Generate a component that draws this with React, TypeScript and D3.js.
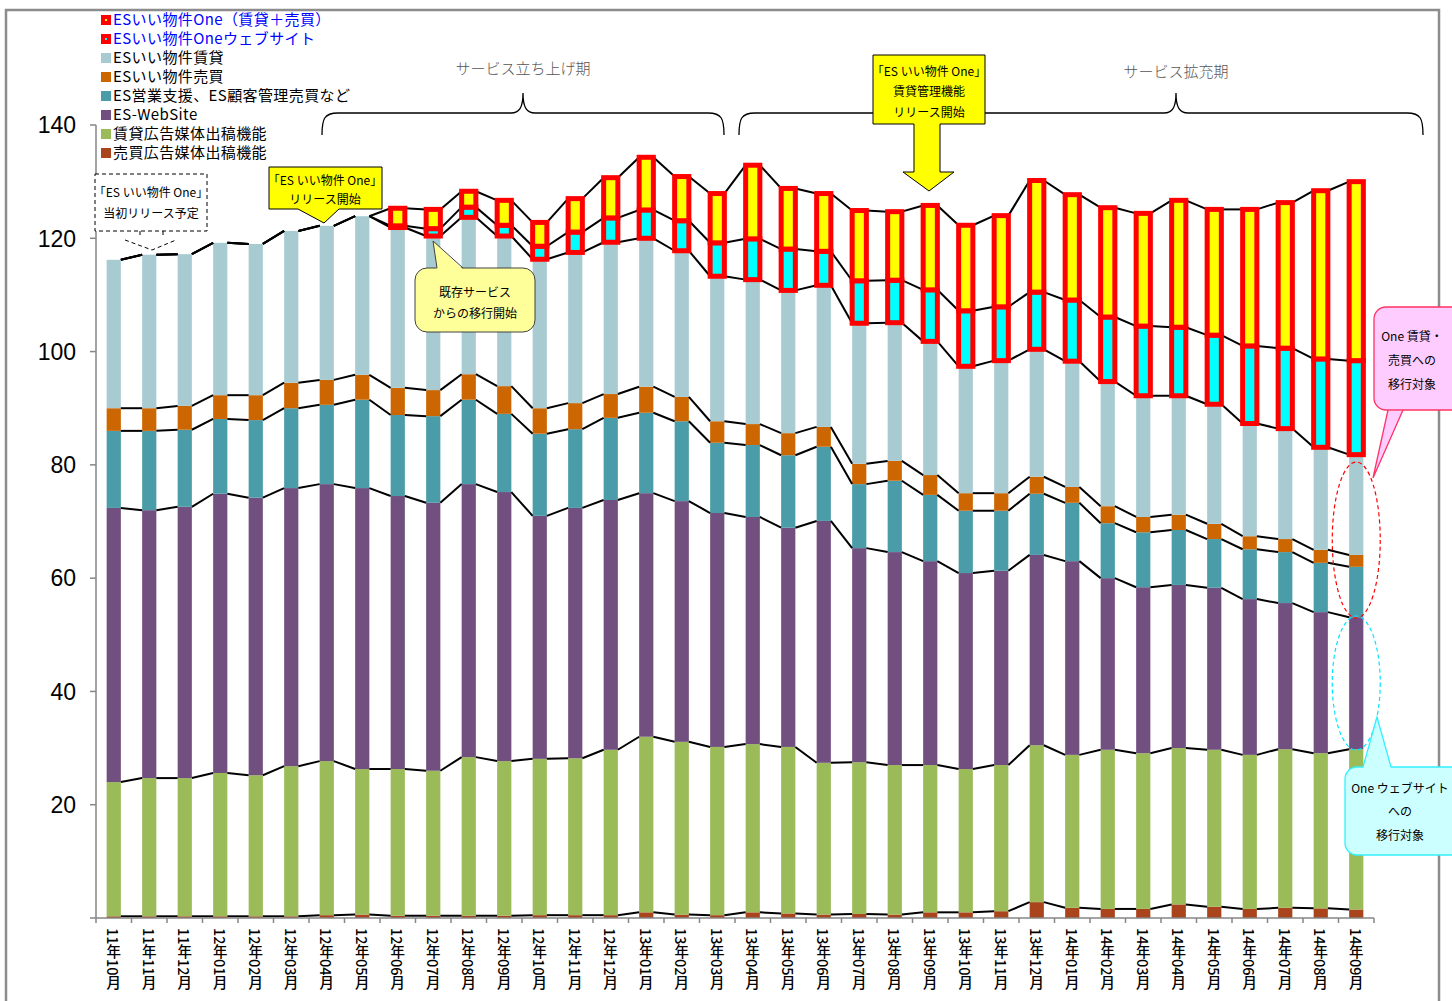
import { useEffect, useRef } from "react";
import * as d3 from "d3";

const W = 1452;
const H = 1001;
const JP = "'Noto Sans CJK JP', 'Noto Sans', sans-serif";

const MONTHS = [
  "11年10月", "11年11月", "11年12月", "12年01月", "12年02月", "12年03月",
  "12年04月", "12年05月", "12年06月", "12年07月", "12年08月", "12年09月",
  "12年10月", "12年11月", "12年12月", "13年01月", "13年02月", "13年03月",
  "13年04月", "13年05月", "13年06月", "13年07月", "13年08月", "13年09月",
  "13年10月", "13年11月", "13年12月", "14年01月", "14年02月", "14年03月",
  "14年04月", "14年05月", "14年06月", "14年07月", "14年08月", "14年09月",
];

// stacked from the bottom up
const BAIBAI_AD = [0.3, 0.3, 0.3, 0.3, 0.3, 0.3, 0.5, 0.6, 0.4, 0.4, 0.4, 0.4, 0.5, 0.5, 0.5, 1.0, 0.6, 0.5, 1.0, 0.8, 0.6, 0.7, 0.6, 1.0, 1.0, 1.2, 2.8, 1.8, 1.6, 1.6, 2.4, 2.0, 1.6, 1.8, 1.7, 1.5];
const CHINTAI_AD = [23.7, 24.4, 24.4, 25.3, 24.9, 26.5, 27.2, 25.7, 25.9, 25.6, 28.0, 27.3, 27.6, 27.7, 29.2, 31.0, 30.5, 29.7, 29.7, 29.4, 26.8, 26.8, 26.4, 26.0, 25.3, 25.8, 27.7, 27.0, 28.1, 27.5, 27.6, 27.7, 27.2, 28.0, 27.4, 28.3];
const WEBSITE = [48.4, 47.3, 47.9, 49.3, 49.0, 49.1, 48.9, 49.6, 48.2, 47.3, 48.2, 47.5, 42.9, 44.2, 44.1, 43.0, 42.5, 41.3, 40.1, 38.7, 42.7, 37.8, 37.6, 36.0, 34.6, 34.3, 33.6, 34.2, 30.3, 29.3, 28.8, 28.6, 27.5, 25.8, 24.9, 23.3];
const EIGYO = [13.6, 14.0, 13.6, 13.2, 13.7, 14.1, 14.0, 15.6, 14.3, 15.3, 14.9, 13.8, 14.5, 13.9, 14.5, 14.2, 14.1, 12.4, 12.7, 12.8, 13.1, 11.3, 12.6, 11.7, 11.0, 10.6, 10.8, 10.3, 9.7, 9.7, 9.7, 8.6, 8.8, 9.0, 8.7, 8.9];
const IIBUKKEN_BAIBAI = [4.0, 4.0, 4.2, 4.2, 4.4, 4.5, 4.4, 4.4, 4.8, 4.6, 4.5, 4.9, 4.5, 4.6, 4.2, 4.6, 4.3, 3.8, 3.7, 3.9, 3.5, 3.6, 3.5, 3.5, 3.1, 3.1, 3.0, 2.8, 3.0, 2.7, 2.7, 2.7, 2.3, 2.3, 2.3, 2.1];
const IIBUKKEN_CHINTAI = [26.2, 27.1, 26.8, 26.9, 26.7, 26.8, 27.2, 28.0, 28.3, 27.2, 27.7, 26.5, 26.3, 26.6, 26.8, 26.2, 25.8, 25.6, 25.5, 25.2, 25.0, 24.8, 24.4, 23.6, 22.4, 23.4, 22.5, 22.2, 22.0, 21.4, 21.0, 21.1, 19.9, 19.5, 18.1, 17.7];
const ONE_WEB = [0, 0, 0, 0, 0, 0, 0, 0, 0.3, 1.3, 1.8, 1.9, 2.3, 3.6, 4.3, 5.0, 5.3, 5.9, 7.2, 7.3, 6.0, 7.5, 7.5, 9.1, 9.8, 9.5, 10.1, 10.8, 11.4, 12.3, 12.1, 12.2, 13.7, 14.2, 15.6, 16.6];
const ONE_MAIN = [0, 0, 0, 0, 0, 0, 0, 0, 3.1, 3.4, 2.8, 4.4, 4.2, 5.9, 7.1, 9.3, 7.8, 8.7, 13.0, 10.7, 10.2, 12.4, 12.1, 14.9, 15.1, 16.1, 19.7, 18.6, 19.3, 19.9, 22.4, 22.2, 24.1, 25.7, 29.7, 31.6];

const Y_TICKS = [0, 20, 40, 60, 80, 100, 120, 140];

const SERIES = [
  { key: "baibaiAd", label: "売買広告媒体出稿機能", color: "#a9441c", values: BAIBAI_AD, one: false },
  { key: "chintaiAd", label: "賃貸広告媒体出稿機能", color: "#9bbb59", values: CHINTAI_AD, one: false },
  { key: "website", label: "ES-WebSite", color: "#71507f", values: WEBSITE, one: false },
  { key: "eigyo", label: "ES営業支援、ES顧客管理売買など", color: "#4a9ca8", values: EIGYO, one: false },
  { key: "iiBaibai", label: "ESいい物件売買", color: "#cc6600", values: IIBUKKEN_BAIBAI, one: false },
  { key: "iiChintai", label: "ESいい物件賃貸", color: "#a8cbd1", values: IIBUKKEN_CHINTAI, one: false },
  { key: "oneWeb", label: "ESいい物件Oneウェブサイト", color: "#00ffff", values: ONE_WEB, one: true },
  { key: "oneMain", label: "ESいい物件One（賃貸＋売買）", color: "#ffff00", values: ONE_MAIN, one: true },
];

const PLOT = { left: 96, right: 1374, top: 125, bottom: 918 };

export default function App() {
  const svgRef = useRef<SVGSVGElement | null>(null);

  useEffect(() => {
    const svg = d3.select(svgRef.current);
    svg.selectAll("*").remove();

    const rows = MONTHS.map((m, i) => {
      const r: Record<string, number | string> = { month: m };
      SERIES.forEach((s) => (r[s.key] = s.values[i]));
      return r;
    });
    const stacked = d3.stack<any>().keys(SERIES.map((s) => s.key))(rows);

    const x = d3
      .scaleBand<string>()
      .domain(MONTHS)
      .range([PLOT.left, PLOT.right])
      .paddingInner(0.6)
      .paddingOuter(0.3);
    const y = d3.scaleLinear().domain([0, 140]).range([PLOT.bottom, PLOT.top]);
    const bw = x.bandwidth();

    // outer frame
    svg
      .append("rect")
      .attr("x", 6)
      .attr("y", 10)
      .attr("width", 1433)
      .attr("height", 1010)
      .attr("fill", "none")
      .attr("stroke", "#8c8c8c")
      .attr("stroke-width", 2.5);

    // bars
    stacked.forEach((layer, li) => {
      const s = SERIES[li];
      svg
        .append("g")
        .selectAll("rect")
        .data(layer.filter((d) => d[1] - d[0] > 0))
        .join("rect")
        .attr("x", (d) => x(d.data.month as string)!)
        .attr("y", (d) => y(d[1]))
        .attr("width", bw)
        .attr("height", (d) => y(d[0]) - y(d[1]))
        .attr("fill", s.color);
    });

    // series lines between adjacent bars
    const lines = svg.append("g").attr("stroke", "#000").attr("stroke-width", 2);
    stacked.forEach((layer) => {
      for (let i = 0; i < layer.length - 1; i++) {
        lines
          .append("line")
          .attr("x1", x(MONTHS[i])! + bw)
          .attr("y1", y(layer[i][1]))
          .attr("x2", x(MONTHS[i + 1])!)
          .attr("y2", y(layer[i + 1][1]));
      }
    });

    // red outline on the "One" segments
    stacked.forEach((layer, li) => {
      if (!SERIES[li].one) return;
      svg
        .append("g")
        .selectAll("rect")
        .data(layer.filter((d) => d[1] - d[0] > 0))
        .join("rect")
        .attr("x", (d) => x(d.data.month as string)!)
        .attr("y", (d) => y(d[1]))
        .attr("width", bw)
        .attr("height", (d) => y(d[0]) - y(d[1]))
        .attr("fill", SERIES[li].color)
        .attr("stroke", "#ff0000")
        .attr("stroke-width", 5);
    });

    // y axis
    const ya = svg.append("g").attr("stroke", "#868686");
    ya.append("line")
      .attr("x1", PLOT.left)
      .attr("x2", PLOT.left)
      .attr("y1", y(140))
      .attr("y2", y(0))
      .attr("stroke-width", 1.5);
    Y_TICKS.forEach((t) => {
      ya.append("line")
        .attr("x1", PLOT.left - 6)
        .attr("x2", PLOT.left)
        .attr("y1", y(t))
        .attr("y2", y(t))
        .attr("stroke-width", 1.5);
      if (t === 0) return;
      svg
        .append("text")
        .attr("x", 76)
        .attr("y", y(t))
        .attr("dy", "0.36em")
        .attr("text-anchor", "end")
        .attr("font-family", "'Liberation Sans', Arial, sans-serif")
        .attr("font-size", 23)
        .attr("fill", "#000")
        .text(t);
    });

    // x axis
    const xa = svg.append("g").attr("stroke", "#868686").attr("stroke-width", 1.5);
    xa.append("line")
      .attr("x1", PLOT.left)
      .attr("x2", PLOT.right)
      .attr("y1", PLOT.bottom)
      .attr("y2", PLOT.bottom);
    const step = x.step();
    for (let i = 0; i <= MONTHS.length; i++) {
      const xx = PLOT.left + i * step;
      xa.append("line").attr("x1", xx).attr("x2", xx).attr("y1", PLOT.bottom).attr("y2", PLOT.bottom + 5);
    }
    svg
      .append("g")
      .selectAll("text")
      .data(MONTHS)
      .join("text")
      .attr("x", (d) => x(d)! + bw / 2)
      .attr("y", 928)
      .style("writing-mode", "vertical-rl")
      .attr("font-family", JP)
      .attr("font-size", 14.5)
      .attr("font-weight", 500)
      .attr("fill", "#000")
      .text((d) => d);

    // legend
    const legend = svg.append("g");
    [...SERIES].reverse().forEach((s, i) => {
      const ly = 20 + i * 19;
      legend
        .append("rect")
        .attr("x", 101)
        .attr("y", ly - 5)
        .attr("width", 10)
        .attr("height", 10)
        .attr("fill", s.one ? "#ff0000" : s.color);
      if (s.one) {
        legend
          .append("rect")
          .attr("x", 105)
          .attr("y", ly - 1)
          .attr("width", 2)
          .attr("height", 2)
          .attr("fill", s.color);
      }
      legend
        .append("text")
        .attr("x", 113)
        .attr("y", ly)
        .attr("dy", "0.35em")
        .attr("font-family", JP)
        .attr("font-size", 15)
        .attr("letter-spacing", 0.4)
        .attr("fill", s.one ? "#0000ff" : "#000")
        .text(s.label);
    });

    const ann = svg.append("g").attr("font-family", JP);
    const lines2 = (cx: number, ys: number[], txt: string[], size = 12) =>
      txt.forEach((t, i) =>
        ann
          .append("text")
          .attr("x", cx)
          .attr("y", ys[i])
          .attr("dy", "0.35em")
          .attr("text-anchor", "middle")
          .attr("font-size", size)
          .attr("fill", "#000")
          .text(t)
      );

    // braces
    const brace = (x1: number, xm: number, x2: number) =>
      `M${x1},135 C${x1},119 ${x1 + 2},113 ${x1 + 16},113 L${xm - 12},113 C${xm - 4},113 ${xm},108 ${xm},93 ` +
      `C${xm},108 ${xm + 4},113 ${xm + 12},113 L${x2 - 16},113 C${x2 - 2},113 ${x2},119 ${x2},135`;
    ann.append("path").attr("d", brace(322, 523, 724)).attr("fill", "none").attr("stroke", "#000").attr("stroke-width", 1.3);
    ann.append("path").attr("d", brace(739, 1176, 1423)).attr("fill", "none").attr("stroke", "#000").attr("stroke-width", 1.3);
    ann.append("text").attr("x", 523).attr("y", 69).attr("dy", "0.35em").attr("text-anchor", "middle")
      .attr("font-size", 15).attr("font-weight", 300).attr("fill", "#555").text("サービス立ち上げ期");
    ann.append("text").attr("x", 1176).attr("y", 72).attr("dy", "0.35em").attr("text-anchor", "middle")
      .attr("font-size", 15).attr("font-weight", 300).attr("fill", "#555").text("サービス拡充期");

    // dashed "initial release" box
    ann.append("rect").attr("x", 95).attr("y", 174).attr("width", 112).attr("height", 57)
      .attr("fill", "#fff").attr("stroke", "#000").attr("stroke-dasharray", "4 3");
    ann.append("path").attr("d", "M140,231 L140,238 M125,240 L152,250 L176,240 M163,231 L163,238")
      .attr("fill", "none").attr("stroke", "#000").attr("stroke-dasharray", "4 3");
    lines2(151, [193, 214], ["「ES いい物件 One」", "当初リリース予定"]);

    // yellow release box
    ann.append("path").attr("d", "M269,167 H382 V209 H339 L324,223 L298,209 H269 Z")
      .attr("fill", "#ffff00").attr("stroke", "#000").attr("stroke-width", 1);
    lines2(325, [181, 200], ["「ES いい物件 One」", "リリース開始"]);

    // migration start callout
    ann.append("rect").attr("x", 415).attr("y", 268).attr("width", 120).attr("height", 64).attr("rx", 12)
      .attr("fill", "#ffff99").attr("stroke", "#404040").attr("stroke-width", 1);
    ann.append("path").attr("d", "M437,269.5 L433,241 L463,269.5 Z").attr("fill", "#ffff99");
    ann.append("path").attr("d", "M437,268 L433,241 L463,268").attr("fill", "none").attr("stroke", "#404040");
    lines2(475, [293, 314], ["既存サービス", "からの移行開始"]);

    // rental-management release arrow box
    ann.append("path").attr("d", "M873,55 H985 V124 H940 V172 H954 L929,191 L903,172 H914 V124 H873 Z")
      .attr("fill", "#ffff00").attr("stroke", "#000").attr("stroke-width", 1);
    lines2(929, [72, 92, 113], ["「ES いい物件 One」", "賃貸管理機能", "リリース開始"]);

    // dashed ellipses around the last bar
    ann.append("ellipse").attr("cx", x(MONTHS[35])! + bw / 2).attr("cy", 540).attr("rx", 24).attr("ry", 78)
      .attr("fill", "none").attr("stroke", "#ff0000").attr("stroke-dasharray", "4 3").attr("stroke-width", 1.2);
    ann.append("ellipse").attr("cx", x(MONTHS[35])! + bw / 2).attr("cy", 683).attr("rx", 24).attr("ry", 67)
      .attr("fill", "none").attr("stroke", "#00e5ff").attr("stroke-dasharray", "4 3").attr("stroke-width", 1.2);

    // pink callout
    ann.append("rect").attr("x", 1374).attr("y", 307).attr("width", 100).attr("height", 103).attr("rx", 12)
      .attr("fill", "#ffccff").attr("stroke", "#ff3366").attr("stroke-width", 1.3);
    ann.append("path").attr("d", "M1388,411 L1373,478 L1403,411 Z").attr("fill", "#ffccff");
    ann.append("path").attr("d", "M1388,410 L1373,478 L1403,410").attr("fill", "none").attr("stroke", "#ff3366").attr("stroke-width", 1.3);
    lines2(1412, [337, 361, 385], ["One 賃貸・", "売買への", "移行対象"]);

    // cyan callout
    ann.append("rect").attr("x", 1345).attr("y", 767).attr("width", 120).attr("height", 88).attr("rx", 12)
      .attr("fill", "#ccffff").attr("stroke", "#33f0ff").attr("stroke-width", 1.3);
    ann.append("path").attr("d", "M1363,768.5 L1377,717 L1391,768.5 Z").attr("fill", "#ccffff");
    ann.append("path").attr("d", "M1363,767 L1377,717 L1391,767").attr("fill", "none").attr("stroke", "#33f0ff").attr("stroke-width", 1.3);
    lines2(1400, [789, 812, 836], ["One ウェブサイト", "への", "移行対象"]);
  }, []);

  return (
    <svg
      ref={svgRef}
      width={W}
      height={H}
      viewBox={`0 0 ${W} ${H}`}
      style={{ position: "absolute", left: 0, top: 0, background: "#fff" }}
    />
  );
}
